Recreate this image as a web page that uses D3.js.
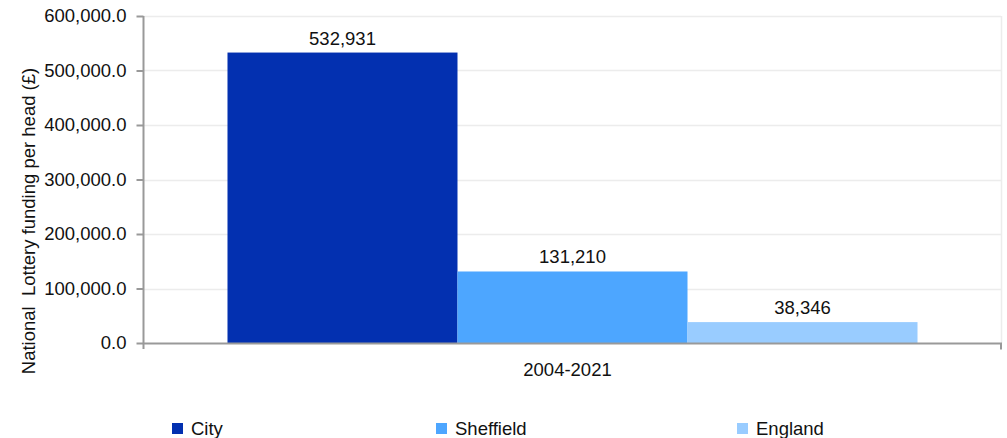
<!DOCTYPE html>
<html><head><meta charset="utf-8">
<script src="https://cdn.jsdelivr.net/npm/d3@7"></script>
<style>body{margin:0;background:#fff}svg{display:block}text{font-family:"Liberation Sans",Arial,sans-serif}</style>
</head><body><svg id="c" width="1007" height="438"></svg>
<script>
const categories = ["2004-2021"];
const seriesNames = ["City", "Sheffield", "England"];
const seriesValues = [532931, 131210, 38346];
const seriesColors = ["#0330b0", "#4da6ff", "#99ccff"];
const yTicks = [0, 100000, 200000, 300000, 400000, 500000, 600000];
const yLabel = "National  Lottery funding per head (£)";
const FS = 18.5;

const svg = d3.select("#c");
const m = {l: 144, r: 1001, t: 16, b: 343};
const y = d3.scaleLinear().domain([0, 600000]).range([m.b, m.t]);
const x0 = d3.scaleBand().domain(categories).range([m.l, m.r]).paddingInner(0).paddingOuter(0.121);
const x1 = d3.scaleBand().domain(seriesNames).range([0, x0.bandwidth()]);

// gridlines
svg.append("g").selectAll("line").data(yTicks.slice(1)).join("line")
  .attr("x1", m.l).attr("x2", m.r).attr("y1", d => Math.round(y(d)) + 0.5).attr("y2", d => Math.round(y(d)) + 0.5)
  .attr("stroke", "#ececec").attr("stroke-width", 1.5);
svg.append("line").attr("x1", m.r + 0.5).attr("x2", m.r + 0.5).attr("y1", m.t).attr("y2", m.b)
  .attr("stroke", "#ececec").attr("stroke-width", 1.5);

// bars
const g = svg.append("g").attr("transform", `translate(${x0(categories[0])},0)`);
g.selectAll("rect").data(seriesValues).join("rect")
  .attr("x", (d, i) => x1(seriesNames[i])).attr("width", x1.bandwidth())
  .attr("y", d => y(d)).attr("height", d => y(0) - y(d))
  .attr("fill", (d, i) => seriesColors[i]);
g.selectAll("text").data(seriesValues).join("text")
  .attr("x", (d, i) => x1(seriesNames[i]) + x1.bandwidth() / 2)
  .attr("y", d => y(d) - 8)
  .attr("text-anchor", "middle").attr("font-size", FS).attr("fill", "#111")
  .text(d => d3.format(",")(d));

// y axis
const ya = svg.append("g").attr("transform", `translate(${m.l - 0.5},0)`)
  .call(d3.axisLeft(y).tickValues(yTicks).tickSize(7).tickPadding(10).tickFormat(d3.format(",.1f")));
ya.select(".domain").attr("stroke", "#999").attr("stroke-width", 2).attr("d", `M0,${m.t}V${m.b + 6}`);
ya.selectAll(".tick line").attr("stroke", "#999").attr("stroke-width", 2);
ya.selectAll(".tick text").attr("font-size", FS).attr("fill", "#111").attr("font-family", "Liberation Sans, Arial, sans-serif");

// x axis
const xa = svg.append("g").attr("transform", `translate(0,${m.b + 0.5})`)
  .call(d3.axisBottom(x0).tickSize(0).tickPadding(19));
xa.select(".domain").attr("stroke", "#999").attr("stroke-width", 2).attr("d", `M${m.l},0H${m.r}V6`);
xa.selectAll(".tick text").attr("font-size", FS).attr("fill", "#111").attr("font-family", "Liberation Sans, Arial, sans-serif")
  .attr("dx", -5);

// y label
svg.append("text").attr("transform", "translate(35,221) rotate(-90)")
  .attr("text-anchor", "middle").attr("font-size", FS).attr("fill", "#111")
  .style("white-space", "pre").attr("xml:space", "preserve").text(yLabel);

// legend
const legX = [172, 436, 737];
const leg = svg.append("g").selectAll("g").data(seriesNames).join("g")
  .attr("transform", (d, i) => `translate(${legX[i]},423)`);
leg.append("rect").attr("width", 11).attr("height", 11).attr("fill", (d, i) => seriesColors[i]);
leg.append("text").attr("x", 19).attr("y", 12).attr("font-size", FS).attr("fill", "#111").text(d => d);
</script></body></html>
